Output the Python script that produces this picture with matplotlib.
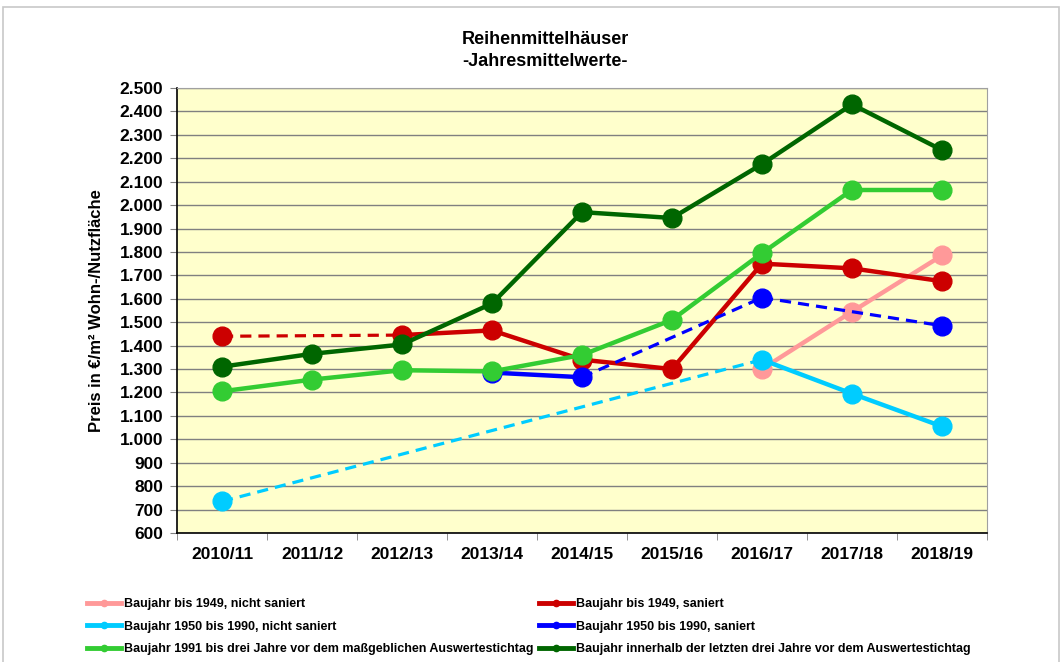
#!/usr/bin/env python3
import numpy as np
import matplotlib
matplotlib.use("Agg")
import matplotlib.pyplot as plt
from matplotlib.ticker import FuncFormatter, MultipleLocator
from matplotlib.lines import Line2D
from matplotlib.patches import Rectangle

plt.rcParams['font.family'] = ['Liberation Sans', 'DejaVu Sans']
plt.rcParams['font.weight'] = 'bold'

# Kategorien (Jahre)
years = ['2010/11', '2011/12', '2012/13', '2013/14', '2014/15',
         '2015/16', '2016/17', '2017/18', '2018/19']

nan = np.nan
# Preise in EUR/m2, fehlende Jahre = nan
bis1949_nicht = [nan, nan, nan, nan, nan, nan, 1300, 1545, 1785]
bis1949_saniert = [1440, nan, 1445, 1465, 1340, 1300, 1750, 1730, 1675]
b1950_nicht = [735, nan, nan, nan, nan, nan, 1340, 1195, 1055]
b1950_saniert = [nan, nan, nan, 1285, 1265, nan, 1605, nan, 1485]
ab1991 = [1205, 1255, 1295, 1290, 1360, 1510, 1795, 2065, 2065]
neubau = [1310, 1365, 1405, 1580, 1970, 1945, 2175, 2430, 2235]

labels = ['Baujahr bis 1949, nicht saniert',
          'Baujahr bis 1949, saniert',
          'Baujahr 1950 bis 1990, nicht saniert',
          'Baujahr 1950 bis 1990, saniert',
          'Baujahr 1991 bis drei Jahre vor dem maßgeblichen Auswertestichtag',
          'Baujahr innerhalb der letzten drei Jahre vor dem Auswertestichtag']
colors = ['#FF9999', '#CC0000', '#00CCFF', '#0000FF', '#33CC33', '#006600']
series = [bis1949_nicht, bis1949_saniert, b1950_nicht, b1950_saniert, ab1991, neubau]


def plot_series(ax, values, color, z):
    x = np.arange(len(values))
    y = np.array(values, dtype=float)
    idx = np.where(~np.isnan(y))[0]
    # Linien: durchgezogen bei Nachbarjahren, gestrichelt ueber Luecken
    for a, b in zip(idx[:-1], idx[1:]):
        if b - a == 1:
            ax.plot(x[[a, b]], y[[a, b]], color=color, lw=3.2, zorder=z,
                    solid_capstyle='round')
        else:
            ax.plot(x[[a, b]], y[[a, b]], color=color, lw=2.3, zorder=z,
                    linestyle=(0, (3.5, 2.2)))
    ax.plot(x[idx], y[idx], linestyle='none', marker='o', markersize=13.5,
            color=color, zorder=z + 0.5)


fig = plt.figure(figsize=(10.62, 6.62), dpi=100)
fig.patches.append(Rectangle((0.003, -0.01), 0.994, 1.0 - 0.0106 + 0.01,
                             transform=fig.transFigure, fill=False,
                             edgecolor='#C8C8C8', lw=1.2))

ax = fig.add_axes([177 / 1062, 1 - 533 / 662, 810 / 1062, 445 / 662])
ax.set_facecolor('#FFFFCC')

for i, (vals, col) in enumerate(zip(series, colors)):
    plot_series(ax, vals, col, 3 + i)

ax.set_ylim(600, 2500)
ax.yaxis.set_major_locator(MultipleLocator(100))
ax.yaxis.set_major_formatter(FuncFormatter(lambda v, p: f"{v:,.0f}".replace(",", ".")))
ax.grid(axis='y', color='#808080', lw=1, zorder=1)
ax.set_axisbelow(True)

ax.set_xlim(-0.5, len(years) - 0.5)
ax.set_xticks(range(len(years)))
ax.set_xticklabels(years)
ax.set_xticks(np.arange(-0.5, len(years)), minor=True)
ax.tick_params(axis='x', which='major', length=0, pad=10, labelsize=12.5)
ax.tick_params(axis='x', which='minor', length=5, color='#808080', direction='out')
ax.tick_params(axis='y', length=5, color='#808080', labelsize=12.5, pad=5)
for t in ax.get_xticklabels() + ax.get_yticklabels():
    t.set_fontweight('bold')

ax.spines['left'].set_color('black')
ax.spines['bottom'].set_color('black')
ax.spines['left'].set_linewidth(1.2)
ax.spines['bottom'].set_linewidth(1.2)
ax.spines['top'].set_color('#A0A0A0')
ax.spines['right'].set_color('#A0A0A0')

ax.set_ylabel('Preis in €/m² Wohn-/Nutzfläche', fontsize=12, fontweight='bold',
              labelpad=11)

fig.text(545 / 1062, 1 - 39 / 662, 'Reihenmittelhäuser', ha='center', va='center',
         fontsize=13, fontweight='bold')
fig.text(545 / 1062, 1 - 61 / 662, '-Jahresmittelwerte-', ha='center', va='center',
         fontsize=13, fontweight='bold')

# Legende in zwei Spalten
def handle(col):
    return Line2D([], [], color=col, lw=3.5, marker='o', markersize=4.5)

left = [0, 2, 4]
right = [1, 3, 5]
for cols, xpos in [(left, 87), (right, 539)]:
    leg = fig.legend([handle(colors[i]) for i in cols], [labels[i] for i in cols],
                     loc='upper left', bbox_to_anchor=(xpos / 1062, 1 - 598 / 662),
                     frameon=False, fontsize=9, handlelength=2.7,
                     handletextpad=0.25, labelspacing=0.85, borderaxespad=0,
                     borderpad=0)
    for t in leg.get_texts():
        t.set_fontweight('bold')

fig.savefig('out.png', dpi=100)
